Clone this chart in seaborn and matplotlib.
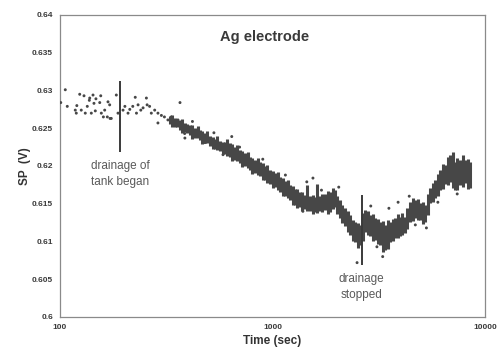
import numpy as np
import pandas as pd
import matplotlib
matplotlib.use("Agg")
import matplotlib.pyplot as plt
import seaborn as sns
from matplotlib.ticker import FixedLocator, NullLocator

# ---- data ----
# sparse early readings (time s, SP V)
sparse_t = [100.8, 105.9, 108.2, 118, 119.3, 120, 123.8, 125.9, 129.7, 131.5, 134.4, 137.4,
            138.0, 140.4, 143.0, 144.5, 146.6, 147.6, 153.8, 155.5, 156.5, 160, 162.3, 167.0,
            168.2, 171.3, 172, 174.3, 184.1, 187.5,
            198, 202, 209, 213, 220, 226, 229, 233, 240, 246, 255, 257, 264, 269, 279,
            289, 289, 300, 310, 322, 334, 340, 346, 359, 372, 386]
sparse_sp = [0.6284, 0.6301, 0.6279, 0.6274, 0.6270, 0.6280, 0.6295, 0.6274, 0.6293, 0.6270, 0.6279, 0.6287,
             0.6290, 0.6270, 0.6294, 0.6283, 0.6273, 0.6289, 0.6284, 0.6293, 0.6270, 0.6265, 0.6274, 0.6265,
             0.6285, 0.6281, 0.6263, 0.6263, 0.6294, 0.6270,
             0.6274, 0.6279, 0.6270, 0.6275, 0.6279, 0.6291, 0.6270, 0.6281, 0.6274, 0.6277, 0.6290, 0.6281, 0.6279, 0.6270, 0.6274,
             0.6270, 0.6257, 0.6267, 0.6265, 0.6261, 0.6265, 0.6254, 0.6259, 0.6261, 0.6256, 0.6243]

# outlying single readings around the dense part
outlier_t = [367, 387, 481, 585, 643, 1390, 1450, 1550, 3530, 3900, 2500, 3300, 4400, 5300,
             420, 530, 700, 900, 1150, 1700, 2050, 2900, 3100, 4700, 6000, 7400]
outlier_sp = [0.6284, 0.6237, 0.6231, 0.6215, 0.6239, 0.6140, 0.6179, 0.6184, 0.6144, 0.6152, 0.6072, 0.6080, 0.6160, 0.6118,
              0.6259, 0.6244, 0.6225, 0.6209, 0.6188, 0.6168, 0.6172, 0.6147, 0.6093, 0.6122, 0.6152, 0.6163]

# dense band: time, lower and upper SP envelope
band_t = [329, 348, 367, 387, 409, 432, 456, 481, 508, 536, 566, 598, 631, 666, 703, 742, 784, 827,
          874, 922, 973, 1027, 1085, 1145, 1209, 1276, 1347, 1422, 1502, 1585, 1673, 1766, 1865, 1968,
          2078, 2194, 2316, 2445, 2581, 2725, 2877, 3037, 3206, 3384, 3573, 3772, 3981, 4203, 4437,
          4684, 4945, 5220, 5511, 5817, 6141, 6483, 6844, 7225, 7627, 8052, 8500]
band_lo = [0.6256, 0.6252, 0.6248, 0.6245, 0.6241, 0.6237, 0.6234, 0.6231, 0.6227, 0.6223, 0.6220, 0.6216,
           0.6212, 0.6208, 0.6204, 0.6200, 0.6195, 0.6191, 0.6187, 0.6182, 0.6176, 0.6172, 0.6166, 0.6160,
           0.6155, 0.6148, 0.6146, 0.6143, 0.6140, 0.6139, 0.6140, 0.6142, 0.6139, 0.6146, 0.6131, 0.6121,
           0.6109, 0.6099, 0.6095, 0.6113, 0.6107, 0.6102, 0.6095, 0.6089, 0.6099, 0.6105, 0.6107, 0.6111,
           0.6126, 0.6131, 0.6129, 0.6126, 0.6151, 0.6158, 0.6168, 0.6176, 0.6179, 0.6168, 0.6175, 0.6177, 0.6171]
band_hi = [0.6266, 0.6264, 0.6261, 0.6257, 0.6254, 0.6250, 0.6248, 0.6244, 0.6240, 0.6236, 0.6233, 0.6232,
           0.6231, 0.6225, 0.6221, 0.6217, 0.6212, 0.6208, 0.6205, 0.6200, 0.6195, 0.6191, 0.6185, 0.6180,
           0.6175, 0.6170, 0.6166, 0.6162, 0.6160, 0.6159, 0.6160, 0.6163, 0.6166, 0.6168, 0.6155, 0.6144,
           0.6135, 0.6126, 0.6122, 0.6142, 0.6135, 0.6131, 0.6126, 0.6122, 0.6126, 0.6131, 0.6132, 0.6132,
           0.6152, 0.6155, 0.6151, 0.6148, 0.6171, 0.6182, 0.6195, 0.6201, 0.6215, 0.6205, 0.6208, 0.6208, 0.6205]

# in-between readings of the dense band
mid_t = [338, 357, 377, 398, 420, 444, 468, 494, 522, 551, 582, 614, 648, 684, 722, 763, 805, 850,
         898, 947, 1000, 1056, 1115, 1177, 1242, 1311, 1384, 1461, 1543, 1628, 1719, 1815, 1916, 2022,
         2135, 2254, 2380, 2512, 2652, 2800, 2956, 3120, 3294, 3477, 3671, 3875, 4090, 4318, 4559,
         4813, 5081, 5364, 5662, 5977, 6310, 6661, 7032, 7423, 7837, 8273]
mid_lo = [0.6252, 0.6251, 0.6244, 0.6244, 0.6236, 0.6237, 0.6229, 0.6230, 0.6222, 0.6221, 0.6216, 0.6213,
          0.6207, 0.6206, 0.6199, 0.6197, 0.6190, 0.6188, 0.6181, 0.6178, 0.6171, 0.6168, 0.6160, 0.6157,
          0.6149, 0.6145, 0.6140, 0.6141, 0.6137, 0.6138, 0.6139, 0.6137, 0.6143, 0.6137, 0.6124, 0.6112,
          0.6100, 0.6092, 0.6100, 0.6108, 0.6100, 0.6097, 0.6086, 0.6090, 0.6100, 0.6104, 0.6108, 0.6117,
          0.6127, 0.6128, 0.6123, 0.6135, 0.6152, 0.6160, 0.6170, 0.6175, 0.6171, 0.6168, 0.6172, 0.6169]
mid_hi = [0.6268, 0.6262, 0.6262, 0.6255, 0.6254, 0.6253, 0.6247, 0.6246, 0.6239, 0.6240, 0.6232, 0.6236,
          0.6229, 0.6228, 0.6220, 0.6219, 0.6211, 0.6211, 0.6204, 0.6201, 0.6194, 0.6192, 0.6184, 0.6181,
          0.6173, 0.6170, 0.6165, 0.6175, 0.6161, 0.6176, 0.6163, 0.6167, 0.6171, 0.6160, 0.6148, 0.6141,
          0.6129, 0.6125, 0.6138, 0.6141, 0.6136, 0.6130, 0.6127, 0.6128, 0.6130, 0.6136, 0.6138, 0.6145,
          0.6157, 0.6156, 0.6152, 0.6163, 0.6178, 0.6190, 0.6203, 0.6212, 0.6219, 0.6210, 0.6214, 0.6209]

# event markers
event_t = [192, 2630]
event_lo = [0.6218, 0.6069]
event_hi = [0.6313, 0.6162]
event_labels = ["drainage of\ntank began", "drainage\nstopped"]
event_label_sp = [0.6189, 0.6040]

x_ticks = [100, 1000, 10000]
x_ticklabels = ["100", "1000", "10000"]
y_ticks = [0.6, 0.605, 0.61, 0.615, 0.62, 0.625, 0.63, 0.635, 0.64]
y_ticklabels = ["0.6", "0.605", "0.61", "0.615", "0.62", "0.625", "0.63", "0.635", "0.64"]

title = "Ag electrode"
xlabel = "Time (sec)"
ylabel = "SP  (V)"

# ---- plot ----
sns.set_style("white")
plt.rcParams["font.family"] = ["Liberation Sans", "DejaVu Sans"]

fig = plt.figure(figsize=(5.01, 3.51), dpi=100)
ax = fig.add_axes([60/501, 1-317/351, 425/501, 302/351])

dot_color = "#474747"
ax.vlines(band_t, band_lo, band_hi, colors=dot_color, linewidth=2.2, zorder=2)
ax.vlines(mid_t, mid_lo, mid_hi, colors=dot_color, linewidth=2.2, zorder=2)

df_sparse = pd.DataFrame({"t": sparse_t, "sp": sparse_sp})
sns.scatterplot(data=df_sparse, x="t", y="sp", ax=ax, s=4.5, color=dot_color,
                edgecolor="none", zorder=3)
df_out = pd.DataFrame({"t": outlier_t, "sp": outlier_sp})
sns.scatterplot(data=df_out, x="t", y="sp", ax=ax, s=4.5, color=dot_color,
                edgecolor="none", zorder=3)

ax.vlines(event_t, event_lo, event_hi, colors="#3a3a3a", linewidth=1.4, zorder=4)
for t, lab, y in zip(event_t, event_labels, event_label_sp):
    ax.text(t, y, lab, ha="center", va="center", fontsize=8.5, color="#5a5a5a",
            linespacing=1.45)

ax.set_xscale("log")
ax.set_xlim(100, 10000)
ax.set_ylim(0.6, 0.64)
ax.xaxis.set_major_locator(FixedLocator(x_ticks))
ax.xaxis.set_minor_locator(NullLocator())
ax.set_xticklabels(x_ticklabels)
ax.yaxis.set_major_locator(FixedLocator(y_ticks))
ax.set_yticklabels(y_ticklabels)
ax.tick_params(axis="both", length=0, labelsize=6, colors="#3a3a3a", pad=5)
for lab in ax.get_xticklabels() + ax.get_yticklabels():
    lab.set_fontweight("bold")

for s in ax.spines.values():
    s.set_color("#8a8a8a")
    s.set_linewidth(0.9)
    s.set_visible(True)

ax.set_xlabel(xlabel, fontsize=8.5, fontweight="bold", color="#333333", labelpad=3)
ax.set_ylabel(ylabel, fontsize=8.5, fontweight="bold", color="#333333", labelpad=1)
ax.text(0.482, 0.927, title, transform=ax.transAxes, ha="center", va="center",
        fontsize=10.5, fontweight="bold", color="#3a3a3a")

fig.savefig("out.png", dpi=100)
